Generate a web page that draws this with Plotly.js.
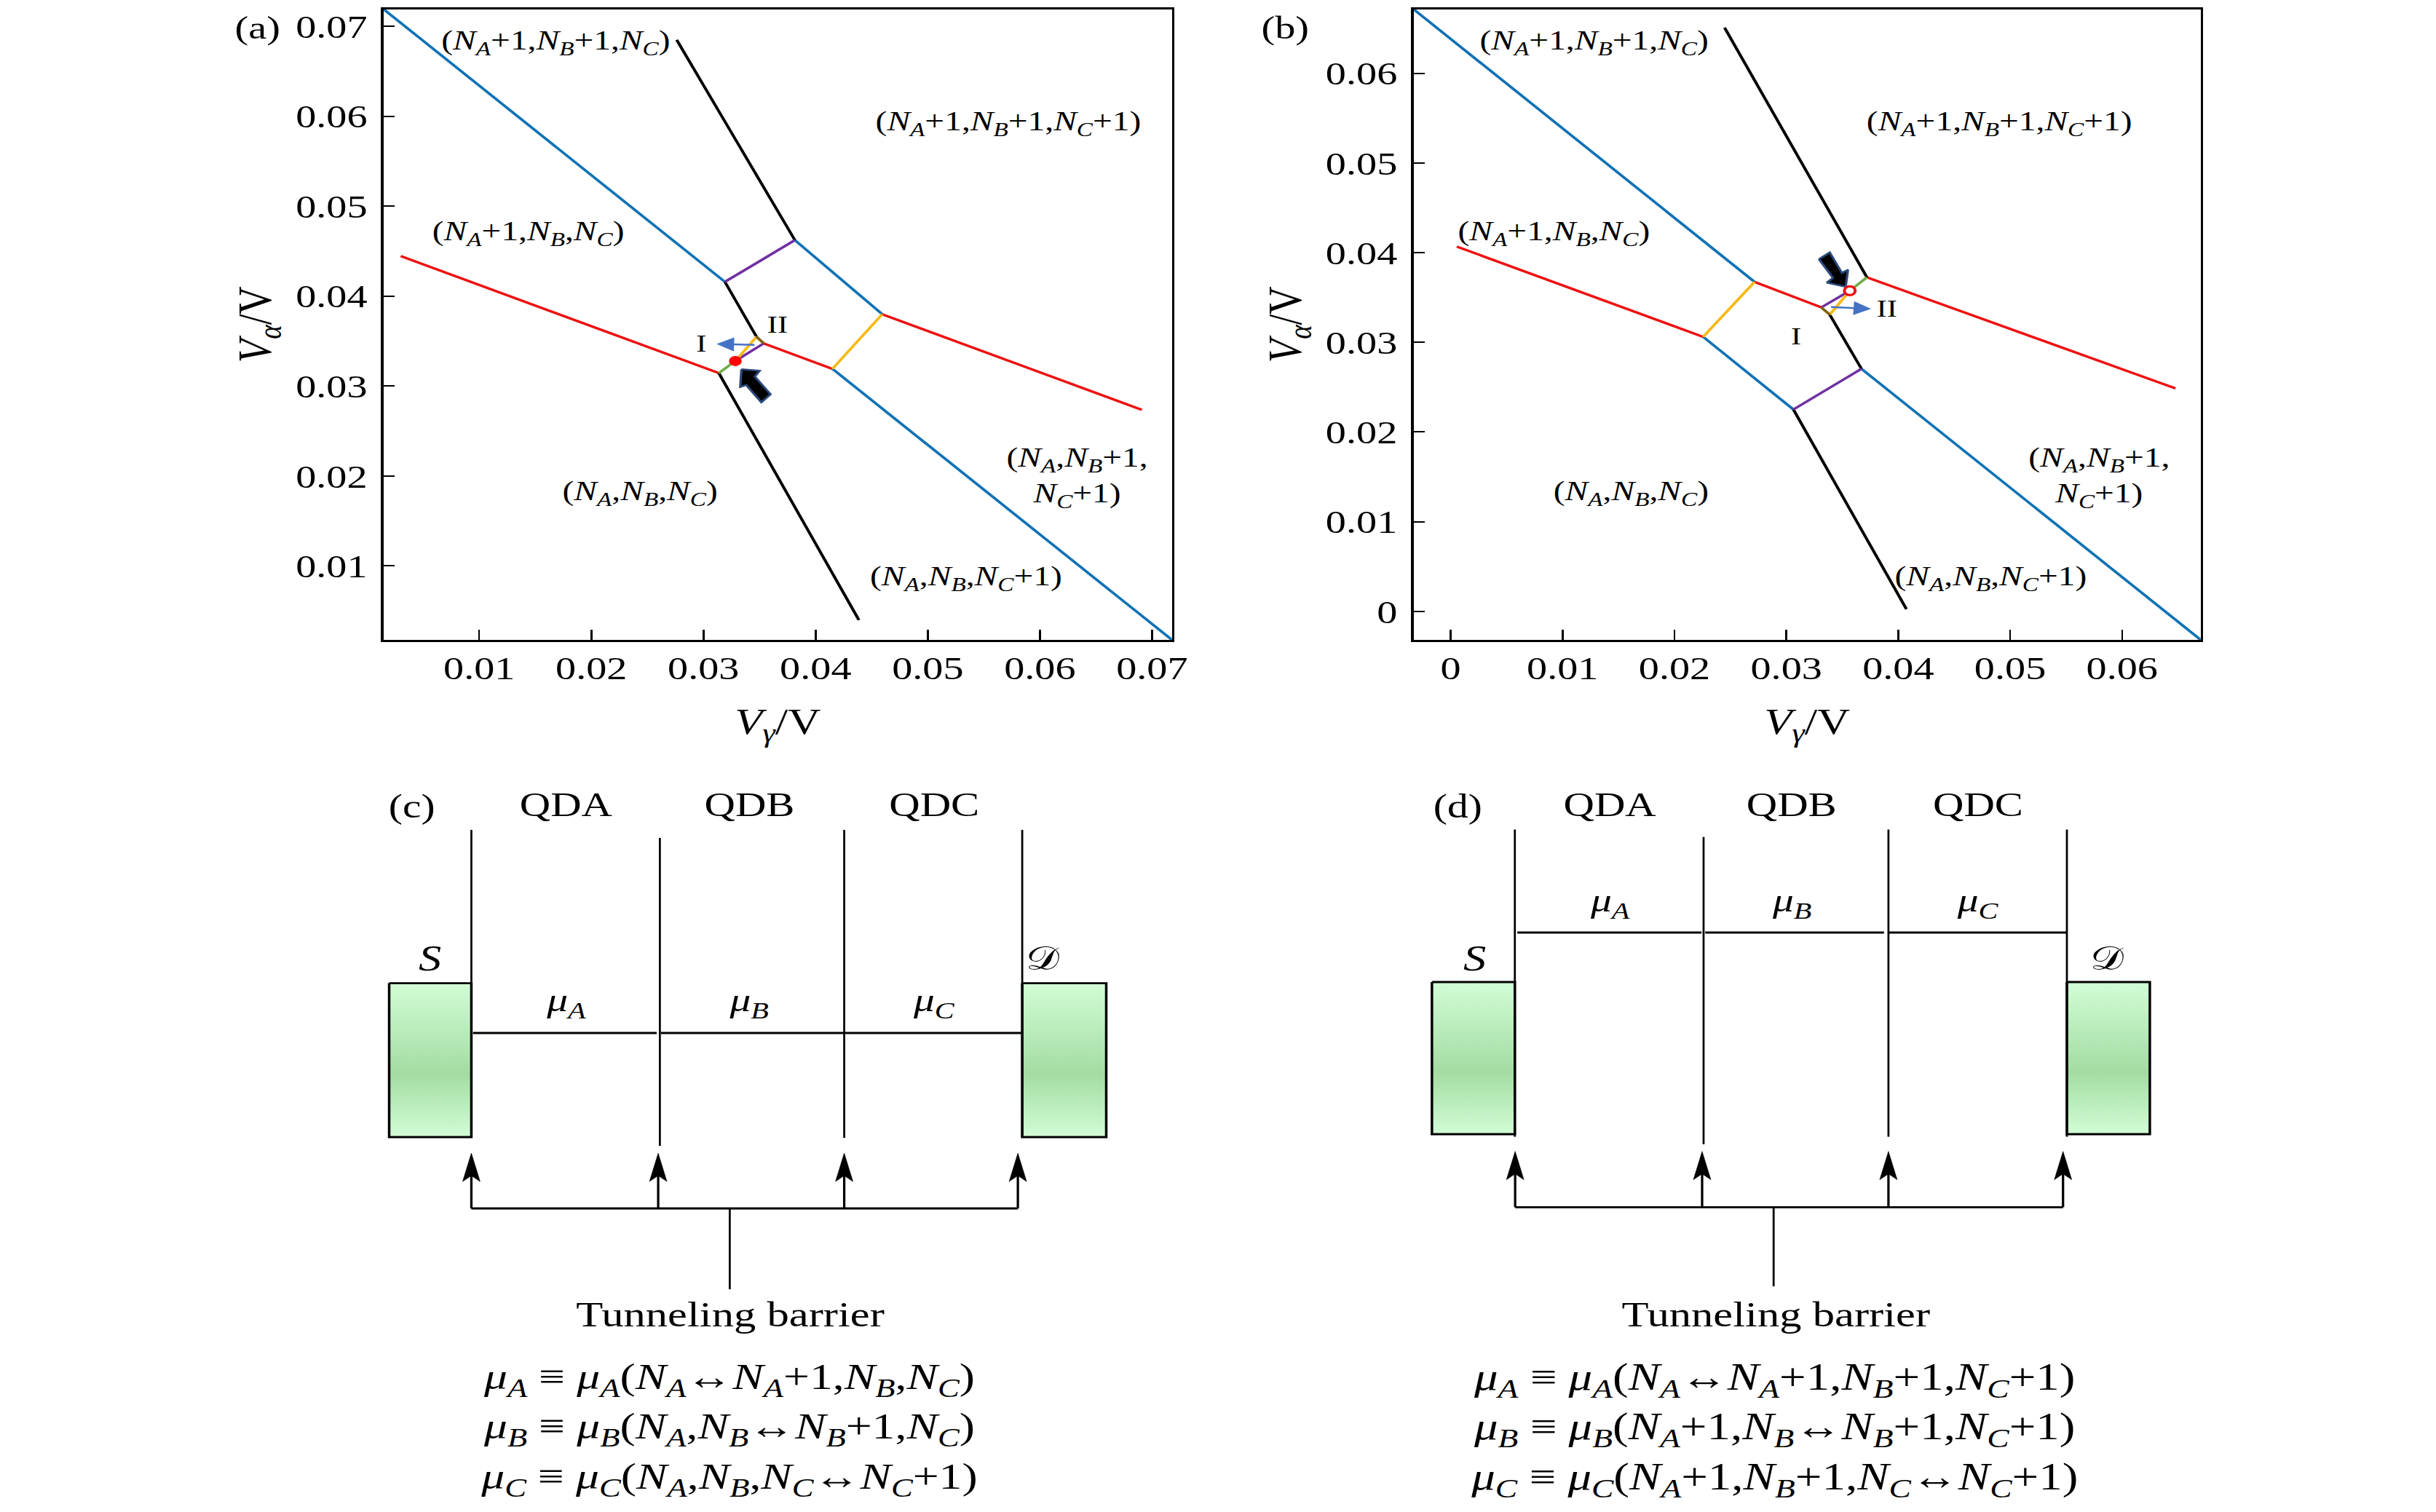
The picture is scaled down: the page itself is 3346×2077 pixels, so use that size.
<!DOCTYPE html>
<html>
<head>
<meta charset="utf-8">
<script src="https://cdn.plot.ly/plotly-3.0.1.min.js"></script>
<style>
html,body{margin:0;padding:0;background:#fff;overflow:hidden;width:3346px;height:2077px}
#chart{width:2677px;height:2077px;transform:scale(1.25,1);transform-origin:0 0}
</style>
</head>
<body>
<div id="chart"></div>
<script>
// ---------- panel (a) : stability diagram ----------
const aTicks = [0.01,0.02,0.03,0.04,0.05,0.06,0.07];
const aTickText = ['0.01','0.02','0.03','0.04','0.05','0.06','0.07'];
const aBlueX = [0.00147,0.03191,null,0.03815,0.04594,null,0.0415,0.07178];
const aBlueY = [0.0719,0.04158,null,0.04622,0.03798,null,0.03191,0.00177];
const aRedX = [0.003,0.03137,null,0.03537,0.0415,null,0.04594,0.06909];
const aRedY = [0.04444,0.03144,null,0.03474,0.03191,null,0.03798,0.02735];
const aBlackX = [0.02761,0.03815,null,0.03191,0.03473,null,0.03137,0.04386];
const aBlackY = [0.06849,0.04622,null,0.04158,0.03547,null,0.03144,0.00398];
const aPurpleX = [0.03191,0.03815,null,0.03537,0.03284];
const aPurpleY = [0.04158,0.04622,null,0.03474,0.03278];
const aYellowX = [0.04594,0.0415,null,0.03473,0.03284];
const aYellowY = [0.03798,0.03191,null,0.03547,0.03278];
const aGreenX = [0.03284,0.03137];
const aGreenY = [0.03278,0.03144];
const aBrownX = [0.03473,0.03537];
const aBrownY = [0.03547,0.03474];
const aDotX = [0.03284];
const aDotY = [0.03278];
const aBlockX = [0.03338,0.03501,0.03458,0.03598,0.03516,0.03381,0.03328,0.03338];
const aBlockY = [0.03186,0.0317,0.03105,0.02908,0.02819,0.03011,0.02989,0.03186];
const aArrowFrom = [0.03468,0.03457];
const aArrowTo = [0.03117,0.03467];

// ---------- panel (b) : stability diagram ----------
const bTicks = [0,0.01,0.02,0.03,0.04,0.05,0.06];
const bTickText = ['0','0.01','0.02','0.03','0.04','0.05','0.06'];
const bBlueX = [-0.00332,0.02716,null,0.02256,0.03063,null,0.03671,0.06703];
const bBlueY = [0.06714,0.03673,null,0.03061,0.02251,null,0.02704,-0.00318];
const bRedX = [0.00055,0.02256,null,0.02716,0.03313,null,0.0372,0.06477];
const bRedY = [0.04067,0.03061,null,0.03673,0.03389,null,0.03724,0.02486];
const bBlackX = [0.02448,0.0372,null,0.03388,0.03671,null,0.03063,0.04073];
const bBlackY = [0.06508,0.03724,null,0.03308,0.02704,null,0.02251,0.00025];
const bPurpleX = [0.03063,0.03671,null,0.03313,0.03567];
const bPurpleY = [0.02251,0.02704,null,0.03389,0.03575];
const bYellowX = [0.02716,0.02256,null,0.03388,0.03567];
const bYellowY = [0.03673,0.03061,null,0.03308,0.03575];
const bGreenX = [0.03567,0.0372];
const bGreenY = [0.03575,0.03724];
const bBrownX = [0.03313,0.03388];
const bBrownY = [0.03389,0.03308];
const bDotX = [0.03567];
const bDotY = [0.03575];
const bBlockX = [0.03291,0.03388,0.03497,0.03551,0.0353,0.03362,0.03417,0.03291];
const bBlockY = [0.03927,0.04002,0.03773,0.03808,0.03619,0.03665,0.03718,0.03927];
const bArrowFrom = [0.03388,0.03394];
const bArrowTo = [0.03757,0.03372];

// ---------- panels (c) and (d) : schematic, in units of the page ----------
const cBarrierX = [647.4,906.3,1159.5,1404];
const cBarrierTop = [1140,1151,1140,1140];
const cBarrierBottom = [1563,1574,1563,1563];
const cLeadLeftX = [534.5,647.4];
const cLeadRightX = [1404,1519.4];
const cLeadY = [1350.6,1562];
const cLevelX = [649.6,901.9,null,907.7,1159.5,null,1159.5,1404];
const cLevelY = [1419,1419,null,1419,1419,null,1419,1419];
const cFeedX = [647.4,904,1159.5,1398];
const cFeedTipY = 1584;
const cBusY = 1660;
const cStemX = 1002.3;
const cStemBottom = 1771;

const dBarrierX = [2080.6,2339.8,2593.7,2838.8];
const dBarrierTop = [1139.5,1149.8,1139.5,1139.5];
const dBarrierBottom = [1561.4,1571.7,1561.4,1561.4];
const dLeadLeftX = [1966.7,2080.6];
const dLeadRightX = [2838.8,2952.7];
const dLeadY = [1349,1558];
const dLevelX = [2084,2337,null,2342,2587.6,null,2594,2838.8];
const dLevelY = [1281,1281,null,1281,1281,null,1281,1281];
const dFeedX = [2081,2337.8,2593.7,2833.5];
const dFeedTipY = 1581.6;
const dBusY = 1658.3;
const dStemX = 2436;
const dStemBottom = 1767;

// ---------- text ----------
const N = s => `<i>N</i><sub><i>${s}</i></sub>`;
const MU = s => `<i>μ</i><sub><i>${s}</i></sub>`;
const regionText = [
  `(${N('A')}+1,${N('B')}+1,${N('C')})`,
  `(${N('A')}+1,${N('B')}+1,${N('C')}+1)`,
  `(${N('A')}+1,${N('B')},${N('C')})`,
  `(${N('A')},${N('B')},${N('C')})`,
  `(${N('A')},${N('B')}+1,<br>${N('C')}+1)`,
  `(${N('A')},${N('B')},${N('C')}+1)`
];
const regionAX = [764,1385,725.6,879,1479,1327];
const regionBX = [2190,2746,2134,2241,2883,2734];
const regionY = [57.6,168.6,320,676.5,655,794];
const dotLabels = ['QDA','QDB','QDC'];
const muLabels = [MU('A'),MU('B'),MU('C')];
const cDotX = [777,1029,1283];
const dDotX = [2211,2460.5,2716.6];
const eqC = [
  `${MU('A')} ≡ ${MU('A')}(${N('A')}↔${N('A')}+1,${N('B')},${N('C')})`,
  `${MU('B')} ≡ ${MU('B')}(${N('A')},${N('B')}↔${N('B')}+1,${N('C')})`,
  `${MU('C')} ≡ ${MU('C')}(${N('A')},${N('B')},${N('C')}↔${N('C')}+1)`
];
const eqD = [
  `${MU('A')} ≡ ${MU('A')}(${N('A')}↔${N('A')}+1,${N('B')}+1,${N('C')}+1)`,
  `${MU('B')} ≡ ${MU('B')}(${N('A')}+1,${N('B')}↔${N('B')}+1,${N('C')}+1)`,
  `${MU('C')} ≡ ${MU('C')}(${N('A')}+1,${N('B')}+1,${N('C')}↔${N('C')}+1)`
];
const eqY = [1895,1963,2032];

// ---------- styles ----------
const FONT = '"Liberation Serif", serif';
const C = {blue:'#0f72b5',red:'#ee1010',black:'#000000',purple:'#7030a0',yellow:'#f7b916',green:'#70ad47',brown:'#7f6000'};
const W = 3.3;

const traces = [];
function line(x,y,color,xa,ya,width){
  traces.push({type:'scatter',mode:'lines',x,y,xaxis:xa,yaxis:ya,hoverinfo:'skip',showlegend:false,
    line:{color,width:width||W,simplify:false},connectgaps:false});
}
function stability(p,xa,ya,hollow){
  line(p.blueX,p.blueY,C.blue,xa,ya);
  line(p.redX,p.redY,C.red,xa,ya);
  line(p.blackX,p.blackY,C.black,xa,ya);
  line(p.purpleX,p.purpleY,C.purple,xa,ya);
  line(p.yellowX,p.yellowY,C.yellow,xa,ya);
  line(p.greenX,p.greenY,C.green,xa,ya);
  line(p.brownX,p.brownY,C.brown,xa,ya);
  traces.push({type:'scatter',mode:'lines',x:p.blockX,y:p.blockY,xaxis:xa,yaxis:ya,hoverinfo:'skip',showlegend:false,
    fill:'toself',fillcolor:'#000000',line:{color:'#2b4a7d',width:2.6}});
  traces.push({type:'scatter',mode:'markers',x:p.dotX,y:p.dotY,xaxis:xa,yaxis:ya,hoverinfo:'skip',showlegend:false,
    marker:hollow?{size:12,color:'#ffffff',line:{color:'#ee1010',width:3.2}}:{size:14,color:'#ff0000',line:{width:0}}});
}
stability({blueX:aBlueX,blueY:aBlueY,redX:aRedX,redY:aRedY,blackX:aBlackX,blackY:aBlackY,purpleX:aPurpleX,purpleY:aPurpleY,
  yellowX:aYellowX,yellowY:aYellowY,greenX:aGreenX,greenY:aGreenY,brownX:aBrownX,brownY:aBrownY,blockX:aBlockX,blockY:aBlockY,dotX:aDotX,dotY:aDotY},'x','y',false);
stability({blueX:bBlueX,blueY:bBlueY,redX:bRedX,redY:bRedY,blackX:bBlackX,blackY:bBlackY,purpleX:bPurpleX,purpleY:bPurpleY,
  yellowX:bYellowX,yellowY:bYellowY,greenX:bGreenX,greenY:bGreenY,brownX:bBrownX,brownY:bBrownY,blockX:bBlockX,blockY:bBlockY,dotX:bDotX,dotY:bDotY},'x2','y2',true);

function lead(xs,ys){
  traces.push({type:'scatter',mode:'lines',xaxis:'x3',yaxis:'y3',hoverinfo:'skip',showlegend:false,
    x:[xs[0],xs[1],xs[1],xs[0],xs[0]],y:[ys[0],ys[0],ys[1],ys[1],ys[0]],
    fill:'toself',
    fillgradient:{type:'vertical',colorscale:[[0,'#d2fdd6'],[0.41,'#a3dca2'],[1,'#d2fdd6']]},
    line:{color:'#000000',width:2.8}});
}
function schematic(p){
  lead(p.leadL,p.leadY);
  lead(p.leadR,p.leadY);
  p.barX.forEach((bx,i)=>line([bx,bx],[p.barT[i],p.barB[i]],'#000000','x3','y3',2.2));
  line(p.levX,p.levY,'#000000','x3','y3',2.8);
  line([p.feed[0],p.feed[3]],[p.bus,p.bus],'#000000','x3','y3',2.8);
  line([p.stemX,p.stemX],[p.bus,p.stemB],'#000000','x3','y3',2.2);
  p.feed.forEach(fx=>{
    line([fx,fx],[p.bus,p.tip+20],'#000000','x3','y3',2.6);
    traces.push({type:'scatter',mode:'lines',xaxis:'x3',yaxis:'y3',hoverinfo:'skip',showlegend:false,
      x:[fx,fx+12,fx,fx-12,fx],y:[p.tip,p.tip+39,p.tip+31,p.tip+39,p.tip],
      fill:'toself',fillcolor:'#000000',line:{color:'#000000',width:0.5}});
  });
}
schematic({leadL:cLeadLeftX,leadR:cLeadRightX,leadY:cLeadY,barX:cBarrierX,barT:cBarrierTop,barB:cBarrierBottom,levX:cLevelX,levY:cLevelY,feed:cFeedX,tip:cFeedTipY,bus:cBusY,stemX:cStemX,stemB:cStemBottom});
schematic({leadL:dLeadLeftX,leadR:dLeadRightX,leadY:dLeadY,barX:dBarrierX,barT:dBarrierTop,barB:dBarrierBottom,levX:dLevelX,levY:dLevelY,feed:dFeedX,tip:dFeedTipY,bus:dBusY,stemX:dStemX,stemB:dStemBottom});

// ---------- annotations ----------
const ann = [];
function txt(x,y,text,size){
  ann.push({xref:'x3',yref:'y3',x,y,text,showarrow:false,xanchor:'center',yanchor:'middle',font:{family:FONT,size,color:'#000'}});
}
regionText.forEach((t,i)=>{txt(regionAX[i],regionY[i],t,38);txt(regionBX[i],regionY[i],t,38);});
txt(354,38.4,'(a)',45);
txt(1765,38.4,'(b)',45);
txt(565.5,1107,'(c)',46);
txt(2002,1107,'(d)',46);
dotLabels.forEach((t,i)=>{txt(cDotX[i],1105,t,47);txt(dDotX[i],1105,t,47);});
muLabels.forEach((t,i)=>{txt(cDotX[i],1377,t,46);txt(dDotX[i],1240,t,46);});
txt(591,1316,'<i>S</i>',50);
txt(2025,1316,'<i>S</i>',50);
txt(1432,1316,'𝒟',46);
txt(2894,1316,'𝒟',46);
txt(1003,1805,'Tunneling barrier',48.5);
txt(2439,1805,'Tunneling barrier',48.5);
eqC.forEach((t,i)=>txt(1001,eqY[i],t,51));
eqD.forEach((t,i)=>txt(2437,eqY[i],t,52));
txt(962.7,471.7,'I',34);
txt(1068,445.7,'II',34);
txt(2466.7,461.7,'I',34);
txt(2592,423,'II',34);
function arrow(from,to,xa,ya){
  ann.push({xref:xa,yref:ya,axref:xa,ayref:ya,x:to[0],y:to[1],ax:from[0],ay:from[1],text:'',showarrow:true,
    arrowhead:2,arrowsize:1.6,arrowwidth:2.4,arrowcolor:'#4472c4'});
}
arrow(aArrowFrom,aArrowTo,'x','y');
arrow(bArrowFrom,bArrowTo,'x2','y2');

// ---------- axes ----------
function axis(domain,range,ticks,ticktext,anchor,titleText,titleSize,standoff,ticklen,labelGap){
  return {domain,range,anchor,tickmode:'array',tickvals:ticks,ticktext,ticks:'inside',ticklen,tickwidth:2,tickcolor:'#000',
    showline:true,mirror:true,linecolor:'#000',linewidth:2.8,showgrid:false,zeroline:false,
    ticklabelstandoff:labelGap,fixedrange:true,
    tickfont:{family:FONT,size:45,color:'#000'},
    title:{text:titleText,standoff,font:{family:FONT,size:titleSize,color:'#000'}}};
}
const xTitle = '<i>V</i><sub><i>γ</i></sub>/V';
const yTitle = '<i>V</i><sub><i>α</i></sub>/V';
const yDom = [1-879/2077,1-12.6/2077];
const layout = {
  width:2677,height:2077,margin:{l:0,r:0,t:0,b:0},paper_bgcolor:'#fff',plot_bgcolor:'rgba(0,0,0,0)',showlegend:false,
  xaxis:axis([526.8/3346,1609.7/3346],[0.00147,0.07178],aTicks,aTickText,'y',xTitle,50,32,14,-3),
  yaxis:axis(yDom,[0.00177,0.0719],aTicks,aTickText,'x',yTitle,53,10,12,6),
  xaxis2:axis([1941.4/3346,3022.6/3346],[-0.00332,0.06703],bTicks,bTickText,'y2',xTitle,50,32,14,-3),
  yaxis2:axis(yDom,[-0.00318,0.06714],bTicks,bTickText,'x2',yTitle,53,10,12,6),
  xaxis3:{domain:[0,1],range:[0,3346],anchor:'y3',visible:false,fixedrange:true},
  yaxis3:{domain:[0,1],range:[2077,0],anchor:'x3',visible:false,fixedrange:true},
  annotations:ann
};
Plotly.newPlot('chart',traces,layout,{displayModeBar:false,staticPlot:true,responsive:false});
</script>
</body>
</html>
